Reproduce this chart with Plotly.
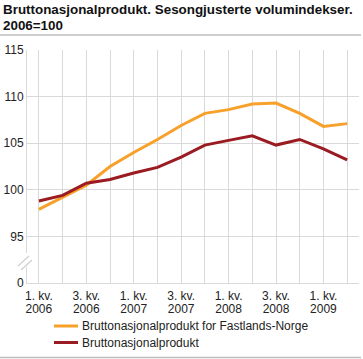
import plotly.graph_objects as go

quarter_labels = ["1. kv.", "2. kv.", "3. kv.", "4. kv.",
                  "1. kv.", "2. kv.", "3. kv.", "4. kv.",
                  "1. kv.", "2. kv.", "3. kv.", "4. kv.",
                  "1. kv.", "2. kv."]
year_labels = ["2006", "2006", "2006", "2006", "2007", "2007", "2007", "2007",
               "2008", "2008", "2008", "2008", "2009", "2009"]
fastland = [97.9, 99.2, 100.5, 102.5, 104.0, 105.4, 106.9, 108.2, 108.6, 109.2, 109.3, 108.2, 106.8, 107.1]
bnp = [98.8, 99.4, 100.7, 101.1, 101.8, 102.4, 103.5, 104.8, 105.3, 105.8, 104.8, 105.4, 104.4, 103.2]
y_ticks = [90, 95, 100, 105, 110, 115]
y_labels = ["0", "95", "100", "105", "110", "115"]
series_names = ["Bruttonasjonalprodukt for Fastlands-Norge", "Bruttonasjonalprodukt"]
series_colors = ["#f7a12b", "#9b1b22"]
title_lines = ["Bruttonasjonalprodukt. Sesongjusterte volumindekser.", "2006=100"]

idx = list(range(len(quarter_labels)))
q_text = [q if i % 2 == 0 else "" for i, q in enumerate(quarter_labels)]
y_text = [q if i % 2 == 0 else "" for i, q in enumerate(year_labels)]

FONT = "Liberation Sans, Arial, sans-serif"
GRID = "#d9d9d9"

fig = go.Figure()
for name, vals, col in zip(series_names, [fastland, bnp], series_colors):
    fig.add_trace(go.Scatter(x=idx, y=vals, mode="lines", name=name,
                             line=dict(color=col, width=3), showlegend=False))
# invisible helper trace so the year axis is drawn
fig.add_trace(go.Scatter(x=idx, y=fastland, xaxis="x2", mode="lines", opacity=0,
                         hoverinfo="skip", showlegend=False))

W, H = 363, 359
L, R, T, B = 27, 4, 50, 76
pw, ph = W - L - R, H - T - B

def px(x):
    return (x - L) / pw

def py(y):
    return (H - B - y) / ph

shapes = [
    dict(type="line", xref="paper", yref="paper", x0=px(0), x1=px(361), y0=py(35), y1=py(35),
         line=dict(color="#bdbdbd", width=1.5)),
    dict(type="line", xref="paper", yref="paper", x0=px(0), x1=px(361), y0=py(357.5), y1=py(357.5),
         line=dict(color="#bdbdbd", width=1.5)),
    # axis break
    dict(type="rect", xref="paper", yref="paper", x0=px(24), x1=px(29.5), y0=py(253), y1=py(267),
         fillcolor="white", line=dict(width=0)),
    dict(type="line", xref="paper", yref="paper", x0=px(18), y0=py(266), x1=px(29), y1=py(256),
         line=dict(color="#cfcfcf", width=1.2)),
    dict(type="line", xref="paper", yref="paper", x0=px(21), y0=py(270), x1=px(32), y1=py(260),
         line=dict(color="#cfcfcf", width=1.2)),
]

annotations = []
for line_txt, yy in zip(title_lines, [9, 25]):
    annotations.append(dict(text="<b>" + line_txt + "</b>", xref="paper", yref="paper",
                            x=px(1), y=py(yy), xanchor="left", yanchor="middle",
                            showarrow=False, font=dict(family=FONT, size=13.4, color="#111")))

# manual legend
leg_y = [326, 342.5]
for name, col, yy in zip(series_names, series_colors, leg_y):
    shapes.append(dict(type="line", xref="paper", yref="paper", x0=px(54), x1=px(78),
                       y0=py(yy), y1=py(yy), line=dict(color=col, width=3)))
    annotations.append(dict(text=name, xref="paper", yref="paper", x=px(80), y=py(yy),
                            xanchor="left", yanchor="middle", showarrow=False,
                            font=dict(family=FONT, size=12, color="#222")))

fig.update_layout(
    width=W, height=H,
    margin=dict(l=L, r=R, t=T, b=B, autoexpand=False),
    paper_bgcolor="white", plot_bgcolor="white",
    font=dict(family=FONT, size=12, color="#222"),
    showlegend=False,
    shapes=shapes,
    annotations=annotations,
    xaxis=dict(range=[-0.5, 13.5], tickvals=idx, ticktext=q_text, showgrid=True,
               gridcolor=GRID, gridwidth=1, zeroline=False, showline=True, linecolor=GRID,
               linewidth=1, ticks="", tickfont=dict(size=12, color="#222"), fixedrange=True,
               automargin=False, ticklabelstandoff=2),
    xaxis2=dict(range=[-0.5, 13.5], tickvals=idx, ticktext=y_text, showgrid=False,
                overlaying="x", side="bottom", anchor="y",
                zeroline=False, showline=False, ticks="", tickfont=dict(size=12, color="#222"),
                fixedrange=True, automargin=False, ticklabelstandoff=17),
    yaxis=dict(range=[90, 115], tickvals=y_ticks, ticktext=y_labels, showgrid=True,
               gridcolor=GRID, gridwidth=1, zeroline=False, showline=True, linecolor=GRID,
               linewidth=1, ticks="", tickfont=dict(size=12, color="#222"), fixedrange=True,
               automargin=False),
)

fig.write_html("out.html", config={"displayModeBar": False},
               post_script="document.body.style.margin='0';document.body.style.overflow='hidden';")
